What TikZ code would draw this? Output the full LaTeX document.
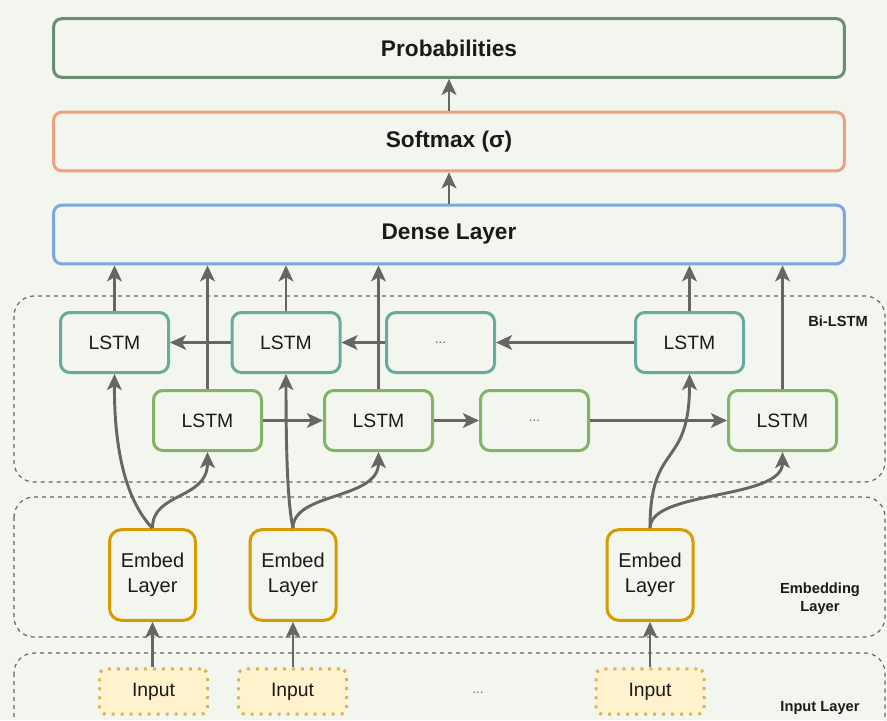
\documentclass[tikz,border=0pt]{standalone}
\usepackage{fontspec}
\setmainfont{Liberation Sans}
\usetikzlibrary{arrows.meta}
\definecolor{bgc}{HTML}{F3F6EE}
\definecolor{probc}{HTML}{6A8F70}
\definecolor{softc}{HTML}{EFA07E}
\definecolor{densec}{HTML}{7EA6E0}
\definecolor{tealc}{HTML}{67AB9F}
\definecolor{greenc}{HTML}{82B366}
\definecolor{embedc}{HTML}{D79B00}
\definecolor{inputc}{HTML}{D6B656}
\definecolor{inputf}{HTML}{FFF2CC}
\definecolor{arrc}{HTML}{666666}
\definecolor{dashc}{HTML}{666666}
\definecolor{txtc}{HTML}{1A1A1A}
\begin{document}
\begin{tikzpicture}[x=0.75pt,y=-0.75pt,
  bigbox/.style={draw, rounded corners=6pt, line width=2.25pt, minimum width=593pt, minimum height=44pt, font=\bfseries\fontsize{17}{20}\selectfont, text=txtc},
  lstm/.style={draw, rounded corners=7pt, line width=2.25pt, minimum width=81pt, minimum height=45pt, font=\fontsize{14.5}{17}\selectfont, text=txtc},
  embedbox/.style={draw=embedc, rounded corners=9pt, line width=2.25pt, minimum width=64.5pt, minimum height=68pt, align=center, font=\fontsize{15}{19}\selectfont, text=txtc},
  inpbox/.style={draw=inputc, fill=inputf, dash pattern=on 2.25pt off 4.5pt, line width=2.25pt, rounded corners=5pt, minimum width=81pt, minimum height=34pt, font=\fontsize{14.5}{17}\selectfont, text=txtc},
  grp/.style={draw=dashc, line width=0.9pt, dash pattern=on 3pt off 3pt, rounded corners=15pt},
  grplabel/.style={font=\bfseries\fontsize{11}{13.5}\selectfont, text=txtc, align=center},
  dots/.style={font=\fontsize{10}{12}\selectfont, text=black!60},
  arr/.style={draw=arrc, line width=2.2pt, -{Stealth[length=12pt,width=11pt,inset=3pt]}}
]
\fill[bgc] (0,0) rectangle (887,720);
\useasboundingbox (0,0) rectangle (887,720);
\begin{scope}
\clip (0,0) rectangle (887,720);
\draw[grp] (14,296) rectangle (885,482);
\draw[grp] (14,497) rectangle (885,637);
\draw[grp] (14,653) rectangle (885,760);
\end{scope}
\node[grplabel] (lblbi) at (838,321) {Bi-LSTM};
\node[grplabel] (lblemb) at (820,599) {Embedding\\Layer};
\node[grplabel] (lblin) at (820,708) {Input Layer};

% top boxes
\node[bigbox, draw=probc] (prob) at (449,48) {Probabilities};
\node[bigbox, draw=softc] (soft) at (449,141.5) {Softmax (σ)};
\node[bigbox, draw=densec] (dense) at (449,234.5) {Dense Layer};

% LSTM rows
\node[lstm, draw=tealc] (l1) at (114.5,342.5) {LSTM};
\node[lstm, draw=tealc] (l2) at (286,342.5) {LSTM};
\node[lstm, draw=tealc, font=\fontsize{10}{12}\selectfont, text=black!60] (l3) at (440.5,342.5) {...};
\node[lstm, draw=tealc] (l4) at (689.5,342.5) {LSTM};
\node[lstm, draw=greenc] (b1) at (207.5,420.5) {LSTM};
\node[lstm, draw=greenc] (b2) at (378.5,420.5) {LSTM};
\node[lstm, draw=greenc, font=\fontsize{10}{12}\selectfont, text=black!60] (b3) at (534.5,420.5) {...};
\node[lstm, draw=greenc] (b4) at (782.5,420.5) {LSTM};

% embed
\node[embedbox] (e1) at (152.5,575) {Embed\\Layer};
\node[embedbox] (e2) at (293,575) {Embed\\Layer};
\node[embedbox] (e3) at (650,575) {Embed\\Layer};

% inputs
\node[inpbox] (i1) at (153.5,691.5) {Input};
\node[inpbox] (i2) at (292.5,691.5) {Input};
\node[inpbox] (i3) at (650,691.5) {Input};
\node[dots] (idots) at (478,693) {...};

% stack arrows
\draw[arr] (soft) -- (prob);
\draw[arr] (dense) -- (soft);

% LSTM outputs to dense
\foreach \n in {l1,l2,l4,b1,b2,b4}{
  \draw[arr] (\n.north) -- (\n.north |- dense.south);
}

% recurrent arrows
\draw[arr] (l4) -- (l3);
\draw[arr] (l3) -- (l2);
\draw[arr] (l2) -- (l1);
\draw[arr] (b1) -- (b2);
\draw[arr] (b2) -- (b3);
\draw[arr] (b3) -- (b4);

% inputs to embed
\draw[arr] (i1.north -| e1) -- (e1.south);
\draw[arr] (i2.north -| e2) -- (e2.south);
\draw[arr] (i3.north) -- (e3.south);

% embed to LSTMs
\draw[arr] (e1.north) .. controls (130,505) and (114,460) .. (l1.south);
\draw[arr] (e1.north) .. controls (152,492) and (207.5,500) .. (b1.south);
\draw[arr] (e2.north) .. controls (288,505) and (286,460) .. (l2.south);
\draw[arr] (e2.north) .. controls (293,492) and (378.5,500) .. (b2.south);
\draw[arr] (e3.north) .. controls (650,440) and (689.5,470) .. (l4.south);
\draw[arr] (e3.north) .. controls (650,490) and (782.5,500) .. (b4.south);
\end{tikzpicture}
\end{document}
